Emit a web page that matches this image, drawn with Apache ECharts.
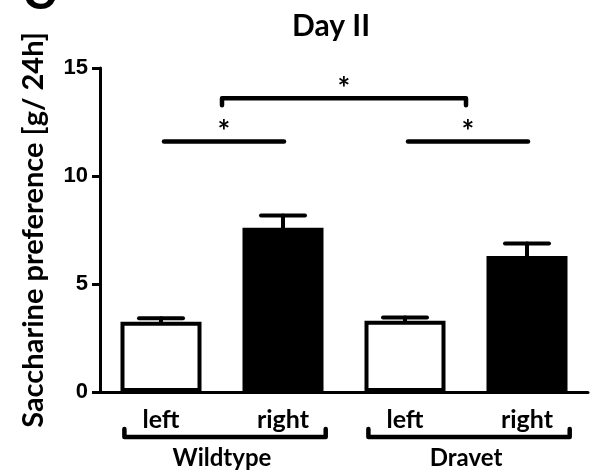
<!DOCTYPE html>
<html>
<head>
<meta charset="utf-8">
<script src="https://cdn.jsdelivr.net/npm/echarts@6/dist/echarts.min.js"></script>
<style>html,body{margin:0;padding:0;background:#fff}#c{width:593px;height:471px}</style>
</head>
<body>
<div id="c"></div>
<script>
// ---- data ----
const categories = ['left', 'right', 'left', 'right'];
const groups = ['Wildtype', 'Dravet'];
const groupMembers = [[0, 1], [2, 3]];
const means = [3.25, 7.6, 3.3, 6.3];
const errors = [0.17, 0.57, 0.15, 0.58];
const yTicks = [0, 5, 10, 15];
const sigStart = [0, 2, 0.5];
const sigEnd = [1, 3, 2.5];
const sigLevel = [11.6, 11.6, 13.6];
const sigText = ['*', '*', '*'];
const sigHasEnds = [false, false, true];

// ---- styles ----
const barFills = ['#ffffff', '#000000', '#ffffff', '#000000'];
const FONT = 'Lato';

const chart = echarts.init(document.getElementById('c'), null, {renderer: 'canvas'});

function bandX(api, pos) {
  const i = Math.floor(pos);
  const frac = pos - i;
  const bw = api.size([1, 0])[0];
  return api.coord([i, 0])[0] + frac * bw;
}

const option = {
  animation: false,
  backgroundColor: '#fff',
  title: {
    text: 'Day II', left: 287, top: 6,
    textStyle: {fontFamily: FONT, fontWeight: 'bold', fontSize: 30, color: '#000'}
  },
  graphic: [{
    type: 'text', left: 23, top: -27,
    style: {text: 'C', font: 'bold 46px "Liberation Sans"', fill: '#000'}
  }],
  grid: {left: 100, right: 5, top: 68, bottom: 79, containLabel: false},
  xAxis: [{
    type: 'category', data: categories, position: 'bottom',
    axisLine: {lineStyle: {color: '#000', width: 3}},
    axisTick: {alignWithLabel: true, length: 10, lineStyle: {color: '#000', width: 3}},
    axisLabel: {fontFamily: FONT, fontWeight: 'bold', fontSize: 25, color: '#000', margin: 15}
  }, {
    type: 'category', data: groups, position: 'bottom',
    axisLine: {show: false}, axisTick: {show: false},
    axisLabel: {fontFamily: FONT, fontWeight: 'bold', fontSize: 24, color: '#000', margin: 54}
  }],
  yAxis: {
    type: 'value', min: yTicks[0], max: yTicks[yTicks.length - 1], interval: 5,
    name: 'Saccharine preference [g/ 24h]', nameLocation: 'middle', nameGap: 52, nameRotate: 90,
    nameTextStyle: {fontFamily: FONT, fontWeight: 'bold', fontSize: 29, color: '#000'},
    axisLine: {show: true, lineStyle: {color: '#000', width: 3}},
    axisTick: {show: true, length: 8, lineStyle: {color: '#000', width: 3}},
    splitLine: {show: false},
    axisLabel: {fontFamily: 'Liberation Sans', fontWeight: 'bold', fontSize: 22, color: '#000', margin: 12}
  },
  series: [{
    type: 'bar', xAxisIndex: 0, barWidth: 81, silent: true,
    data: means.map((v, i) => ({value: v, itemStyle: {color: barFills[i]}})),
    itemStyle: {borderColor: '#000', borderWidth: 4}
  }, {
    type: 'custom', xAxisIndex: 0, silent: true, clip: false, z: 1,
    data: means.map((m, i) => [i, m, errors[i]]),
    renderItem: function (params, api) {
      const i = api.value(0), m = api.value(1), e = api.value(2);
      const p0 = api.coord([i, m]);
      const p1 = api.coord([i, m + e]);
      const st = {stroke: '#000', lineWidth: 4, lineCap: 'round'};
      return {type: 'group', children: [
        {type: 'line', shape: {x1: p0[0], y1: p0[1], x2: p1[0], y2: p1[1]}, style: st},
        {type: 'line', shape: {x1: p1[0] - 22, y1: p1[1], x2: p1[0] + 22, y2: p1[1]}, style: st}
      ]};
    }
  }, {
    type: 'custom', xAxisIndex: 0, silent: true, clip: false,
    data: sigStart.map((s, k) => [s, sigEnd[k], sigLevel[k], k]),
    renderItem: function (params, api) {
      const k = api.value(3);
      const x1 = bandX(api, api.value(0)) + (sigHasEnds[k] ? 0 : 3);
      const x2 = bandX(api, api.value(1)) + (sigHasEnds[k] ? 0 : 1);
      const y = api.coord([0, api.value(2)])[1];
      const st = {stroke: '#000', lineWidth: 4.5, lineCap: 'round', lineJoin: 'round'};
      const children = [];
      if (sigHasEnds[k]) {
        children.push({type: 'polyline', shape: {points: [[x1, y + 7], [x1, y], [x2, y], [x2, y + 7]]}, style: Object.assign({fill: null}, st)});
      } else {
        children.push({type: 'line', shape: {x1: x1, y1: y, x2: x2, y2: y}, style: st});
      }
      children.push({type: 'text', x: (x1 + x2) / 2, y: y - 9,
        style: {text: sigText[k], font: 'bold 30px "Lato"', fill: '#000', align: 'center', verticalAlign: 'middle'}});
      return {type: 'group', children: children};
    }
  }, {
    type: 'custom', xAxisIndex: 0, silent: true, clip: false,
    data: groupMembers.map(g => [g[0], g[1]]),
    renderItem: function (params, api) {
      const bw = api.size([1, 0])[0];
      const x1 = api.coord([api.value(0), 0])[0] - 0.30 * bw;
      const x2 = api.coord([api.value(1), 0])[0] + 0.35 * bw;
      const y = api.coord([0, 0])[1] + 45;
      return {type: 'polyline', shape: {points: [[x1, y - 8], [x1, y], [x2, y], [x2, y - 8]]},
        style: {stroke: '#000', fill: null, lineWidth: 4.5, lineCap: 'round', lineJoin: 'round'}};
    }
  }]
};
chart.setOption(option);
</script>
</body>
</html>
